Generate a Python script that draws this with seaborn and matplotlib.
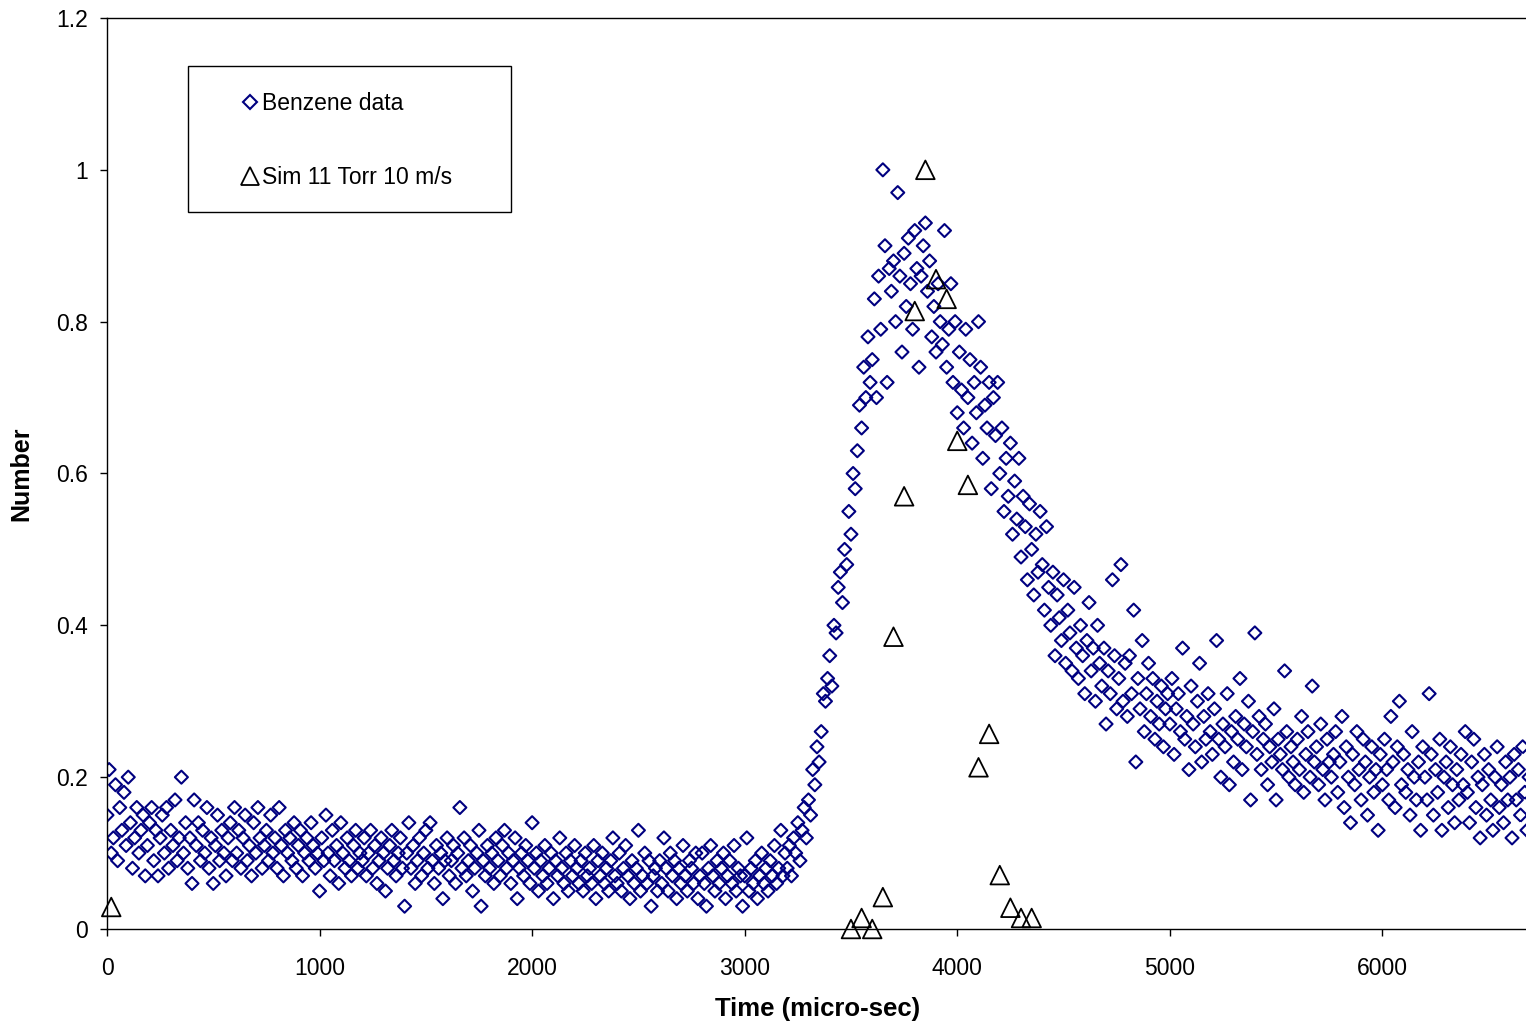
import numpy as np
import pandas as pd
import matplotlib
matplotlib.use("Agg")
import matplotlib.pyplot as plt
from matplotlib.patches import Rectangle
from matplotlib.lines import Line2D
from matplotlib.ticker import FuncFormatter
import seaborn as sns

# ---------------- data ----------------
benzene_t0 = 0
benzene_dt = 10  # micro-sec between samples
benzene_y = [
    # 0-190
    0.15,0.21,0.10,0.12,0.19,0.09,0.16,0.13,0.18,0.11,0.20,0.14,0.08,0.12,0.16,0.10,0.13,0.15,0.07,0.11,
    # 200-390
    0.14,0.16,0.09,0.13,0.07,0.12,0.15,0.10,0.16,0.08,0.13,0.11,0.17,0.09,0.12,0.20,0.10,0.14,0.08,0.12,
    # 400-590
    0.06,0.17,0.11,0.14,0.09,0.13,0.10,0.16,0.08,0.12,0.06,0.11,0.15,0.09,0.13,0.10,0.07,0.12,0.14,0.09,
    # 600-790
    0.16,0.10,0.13,0.08,0.12,0.15,0.09,0.11,0.07,0.14,0.10,0.16,0.12,0.08,0.11,0.13,0.09,0.15,0.10,0.12,
    # 800-990
    0.08,0.16,0.11,0.07,0.13,0.10,0.12,0.09,0.14,0.08,0.11,0.13,0.07,0.10,0.12,0.09,0.14,0.11,0.08,0.10,
    # 1000-1190
    0.05,0.12,0.09,0.15,0.10,0.07,0.13,0.09,0.11,0.06,0.14,0.10,0.08,0.12,0.09,0.07,0.11,0.13,0.08,0.10,
    # 1200-1390
    0.09,0.12,0.07,0.10,0.13,0.08,0.11,0.06,0.09,0.12,0.10,0.05,0.08,0.11,0.13,0.09,0.07,0.10,0.12,0.08,
    # 1400-1590
    0.03,0.10,0.14,0.08,0.11,0.06,0.09,0.12,0.07,0.10,0.13,0.08,0.14,0.09,0.06,0.11,0.08,0.10,0.04,0.09,
    # 1600-1790
    0.12,0.07,0.09,0.11,0.06,0.10,0.16,0.08,0.12,0.07,0.09,0.11,0.05,0.08,0.10,0.13,0.03,0.09,0.07,0.11,
    # 1800-1990
    0.08,0.10,0.06,0.12,0.09,0.07,0.11,0.13,0.08,0.10,0.06,0.09,0.12,0.04,0.08,0.10,0.07,0.11,0.09,0.06,
    # 2000-2190
    0.14,0.08,0.10,0.05,0.09,0.07,0.11,0.06,0.08,0.10,0.04,0.09,0.07,0.12,0.08,0.06,0.10,0.05,0.09,0.07,
    # 2200-2390
    0.11,0.08,0.06,0.09,0.05,0.10,0.07,0.08,0.06,0.11,0.04,0.09,0.07,0.10,0.06,0.08,0.05,0.09,0.12,0.07,
    # 2400-2590
    0.06,0.10,0.05,0.08,0.11,0.07,0.04,0.09,0.06,0.08,0.13,0.05,0.07,0.10,0.06,0.09,0.03,0.07,0.08,0.05,
    # 2600-2790
    0.09,0.06,0.12,0.08,0.05,0.10,0.07,0.09,0.04,0.08,0.06,0.11,0.07,0.05,0.09,0.08,0.06,0.10,0.04,0.07,
    # 2800-2990
    0.10,0.06,0.03,0.08,0.11,0.07,0.05,0.09,0.06,0.08,0.10,0.04,0.07,0.09,0.06,0.11,0.05,0.08,0.07,0.03,
    # 3000-3190
    0.07,0.12,0.05,0.08,0.06,0.09,0.04,0.07,0.10,0.06,0.08,0.05,0.09,0.07,0.11,0.06,0.08,0.13,0.07,0.10,
    # 3200-3390
    0.08,0.11,0.07,0.12,0.10,0.14,0.09,0.13,0.16,0.12,0.17,0.15,0.21,0.19,0.24,0.22,0.26,0.31,0.30,0.33,
    # 3400-3590
    0.36,0.32,0.40,0.39,0.45,0.47,0.43,0.50,0.48,0.55,0.52,0.60,0.58,0.63,0.69,0.66,0.74,0.70,0.78,0.72,
    # 3600-3790
    0.75,0.83,0.70,0.86,0.79,1.00,0.90,0.72,0.87,0.84,0.88,0.80,0.97,0.86,0.76,0.89,0.82,0.91,0.85,0.79,
    # 3800-3990
    0.92,0.87,0.74,0.86,0.90,0.93,0.84,0.88,0.78,0.82,0.76,0.85,0.80,0.77,0.92,0.74,0.79,0.85,0.72,0.80,
    # 4000-4190
    0.68,0.76,0.71,0.66,0.79,0.70,0.75,0.64,0.72,0.68,0.80,0.74,0.62,0.69,0.66,0.72,0.58,0.70,0.65,0.72,
    # 4200-4390
    0.60,0.66,0.55,0.62,0.57,0.64,0.52,0.59,0.54,0.62,0.49,0.57,0.53,0.46,0.56,0.50,0.44,0.52,0.47,0.55,
    # 4400-4590
    0.48,0.42,0.53,0.45,0.40,0.47,0.36,0.44,0.41,0.38,0.46,0.35,0.42,0.39,0.34,0.45,0.37,0.33,0.40,0.36,
    # 4600-4790
    0.31,0.38,0.43,0.34,0.37,0.30,0.40,0.35,0.32,0.37,0.27,0.34,0.31,0.46,0.36,0.29,0.33,0.48,0.30,0.35,
    # 4800-4990
    0.28,0.36,0.31,0.42,0.22,0.33,0.29,0.38,0.26,0.31,0.35,0.28,0.33,0.25,0.30,0.27,0.32,0.24,0.29,0.31,
    # 5000-5190
    0.27,0.33,0.23,0.29,0.31,0.26,0.37,0.25,0.28,0.21,0.32,0.27,0.24,0.30,0.35,0.22,0.28,0.25,0.31,0.26,
    # 5200-5390
    0.23,0.29,0.38,0.25,0.20,0.27,0.24,0.31,0.19,0.26,0.22,0.28,0.25,0.33,0.21,0.27,0.24,0.30,0.17,0.26,
    # 5400-5590
    0.39,0.23,0.28,0.21,0.25,0.27,0.19,0.24,0.22,0.29,0.17,0.25,0.23,0.21,0.34,0.26,0.20,0.24,0.22,0.19,
    # 5600-5790
    0.25,0.21,0.28,0.18,0.23,0.26,0.20,0.32,0.22,0.24,0.19,0.27,0.21,0.17,0.25,0.22,0.20,0.23,0.26,0.18,
    # 5800-5990
    0.22,0.28,0.16,0.24,0.20,0.14,0.23,0.19,0.26,0.21,0.17,0.25,0.22,0.15,0.20,0.24,0.18,0.21,0.13,0.23,
    # 6000-6190
    0.19,0.25,0.21,0.17,0.28,0.22,0.16,0.24,0.30,0.19,0.23,0.18,0.21,0.15,0.26,0.20,0.17,0.22,0.13,0.24,
    # 6200-6390
    0.20,0.17,0.31,0.23,0.15,0.21,0.18,0.25,0.13,0.20,0.22,0.16,0.24,0.19,0.14,0.21,0.17,0.23,0.19,0.26,
    # 6400-6590
    0.18,0.14,0.22,0.25,0.16,0.20,0.12,0.19,0.23,0.15,0.21,0.17,0.13,0.20,0.24,0.16,0.19,0.14,0.22,0.17,
    # 6600-6690
    0.20,0.12,0.23,0.17,0.21,0.15,0.24,0.18,0.13,0.20,
]
benzene_t = [benzene_t0 + i * benzene_dt for i in range(len(benzene_y))]

sim_t = [20, 3500, 3550, 3600, 3650, 3700, 3750, 3800, 3850, 3900, 3950,
         4000, 4050, 4100, 4150, 4200, 4250, 4300, 4350]
sim_y = [0.029, 0.0, 0.0145, 0.0, 0.042, 0.385, 0.570, 0.814, 1.0, 0.856, 0.830,
         0.643, 0.585, 0.213, 0.257, 0.071, 0.028, 0.0145, 0.0145]

x_ticks = [0, 1000, 2000, 3000, 4000, 5000, 6000]
y_ticks = [0, 0.2, 0.4, 0.6, 0.8, 1.0, 1.2]
x_label = "Time (micro-sec)"
y_label = "Number"
series_names = ["Benzene data", "Sim 11 Torr 10 m/s"]

# ---------------- plot ----------------
sns.set_theme(style="white")
plt.rcParams["font.family"] = ["Liberation Sans", "DejaVu Sans"]

fig = plt.figure(figsize=(15.26, 10.27), dpi=100)
ax = fig.add_axes([107 / 1526, 98 / 1027, 1 - 107 / 1526 + 0.002, 911 / 1027])

bdf = pd.DataFrame({"t": benzene_t, "y": benzene_y})
sdf = pd.DataFrame({"t": sim_t, "y": sim_y})

navy = "#000080"
diamond_s = 44
tri_s = 180
sns.scatterplot(data=bdf, x="t", y="y", ax=ax, marker="D", s=diamond_s,
                facecolors="none", edgecolor=navy, linewidth=1.5,
                legend=False, clip_on=True)
sns.scatterplot(data=sdf, x="t", y="y", ax=ax, marker="^", s=tri_s,
                facecolors="none", edgecolor="black", linewidth=1.3,
                legend=False, clip_on=False, zorder=5)

ax.set_xlim(0, 6690)
ax.set_ylim(0, 1.2)
ax.set_xticks(x_ticks)
ax.set_yticks(y_ticks)
ax.yaxis.set_major_formatter(FuncFormatter(lambda v, p: f"{v:g}"))
ax.xaxis.set_major_formatter(FuncFormatter(lambda v, p: f"{v:g}"))
ax.tick_params(axis="both", direction="out", length=5, width=1.0, color="black",
               labelsize=16.5, labelcolor="black", bottom=True, left=True)
ax.tick_params(axis="x", pad=15)
ax.tick_params(axis="y", pad=9)

for side in ["left", "bottom", "top"]:
    ax.spines[side].set_visible(True)
    ax.spines[side].set_color("black")
    ax.spines[side].set_linewidth(1.0)
ax.spines["right"].set_visible(False)
ax.grid(False)

ax.set_xlabel(x_label, fontsize=18.5, fontweight="bold", color="black")
ax.set_ylabel(y_label, fontsize=18, fontweight="bold", color="black")
ax.xaxis.set_label_coords(0.5, -0.0745)
ax.yaxis.set_label_coords(-0.0521, 0.5)

# legend
handles = [
    Line2D([], [], ls="none", marker="D", ms=np.sqrt(diamond_s), mfc="none",
           mec=navy, mew=1.5),
    Line2D([], [], ls="none", marker="^", ms=np.sqrt(tri_s) * 0.95, mfc="none",
           mec="black", mew=1.3),
]
leg = ax.legend(handles, series_names, loc="center",
                bbox_to_anchor=(347 / 1526, 1 - 140.5 / 1027),
                bbox_transform=fig.transFigure, frameon=False, fontsize=16.5,
                handlelength=0.7, handletextpad=0.2, labelspacing=2.2,
                borderpad=0)
for t in leg.get_texts():
    t.set_color("black")
rect = Rectangle((188 / 1526, 1 - 212 / 1027), (511 - 188) / 1526, (212 - 66) / 1027,
                 transform=fig.transFigure, fill=False, edgecolor="black",
                 linewidth=1.0, zorder=10)
fig.add_artist(rect)

fig.savefig("out.png", dpi=100)
